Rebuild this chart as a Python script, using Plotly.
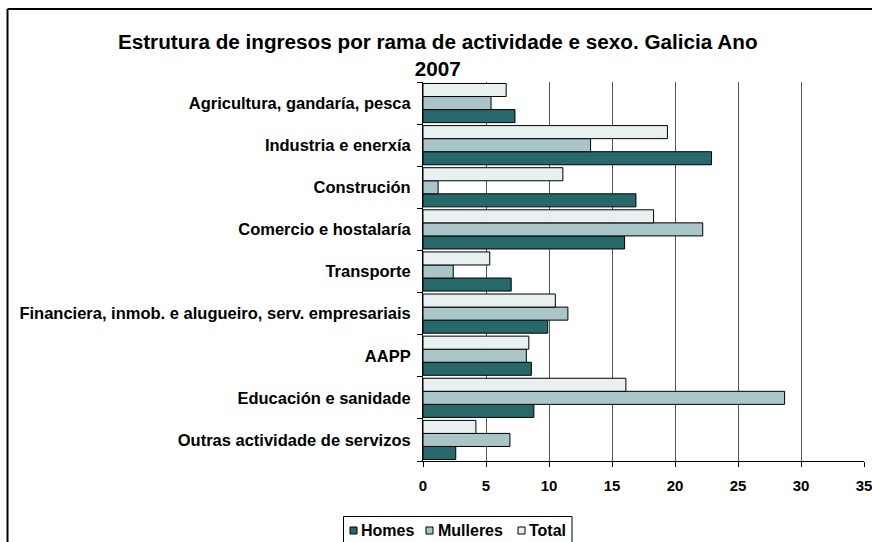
import plotly.graph_objects as go

# categorias de arriba a abaixo
ramas = ["Agricultura, gandaría, pesca", "Industria e enerxía", "Construción",
         "Comercio e hostalaría", "Transporte",
         "Financiera, inmob. e alugueiro, serv. empresariais", "AAPP",
         "Educación e sanidade", "Outras actividade de servizos"]

homes = [7.3, 22.9, 16.9, 16.0, 7.0, 9.9, 8.6, 8.8, 2.6]
mulleres = [5.4, 13.3, 1.2, 22.2, 2.4, 11.5, 8.2, 28.7, 6.9]
total = [6.6, 19.4, 11.1, 18.3, 5.3, 10.5, 8.4, 16.1, 4.2]

series = ["Homes", "Mulleres", "Total"]
cores = ["#27686A", "#A9C5C7", "#E9F1F0"]

xticks = [0, 5, 10, 15, 20, 25, 30, 35]

FONT = "Liberation Sans, Arial, sans-serif"
W, H = 872, 542
L, R, T, B = 423, 8, 82, 81

# pasa pixeles da paxina a coordenadas "paper"
def px(x):
    return (x - L) / (W - L - R)

def py(y):
    return (H - B - y) / (H - T - B)

fig = go.Figure()
for nome, vals, cor in zip(series, [homes, mulleres, total], cores):
    fig.add_trace(go.Bar(y=ramas, x=vals, orientation="h", name=nome, showlegend=False,
                         marker=dict(color=cor, line=dict(color="black", width=1))))

# marco exterior do grafico (so se ven as beiras superior e esquerda)
fig.add_shape(type="line", xref="paper", yref="paper", x0=px(7.5), x1=px(W + 5), y0=py(9), y1=py(9),
              line=dict(color="black", width=2))
fig.add_shape(type="line", xref="paper", yref="paper", x0=px(7.5), x1=px(7.5), y0=py(9), y1=py(H + 5),
              line=dict(color="black", width=2))

# lenda debuxada a man (caixa, cadriños e textos)
fig.add_shape(type="rect", xref="paper", yref="paper", x0=px(343.5), x1=px(572), y0=py(516.5), y1=py(H + 5),
              line=dict(color="black", width=1), fillcolor="white")
leg_sq = [350, 426, 518]
leg_tx = [359, 436, 527]
for nome, cor, xs, xt in zip(series, cores, leg_sq, leg_tx):
    fig.add_shape(type="rect", xref="paper", yref="paper", x0=px(xs), x1=px(xs + 7),
                  y0=py(527), y1=py(534), line=dict(color="black", width=1), fillcolor=cor)
    fig.add_annotation(text=nome, xref="paper", yref="paper", x=px(xt), y=py(530.5),
                       xanchor="left", yanchor="middle", showarrow=False,
                       font=dict(family=FONT, size=16, color="black", weight="bold"))

fig.update_layout(
    width=W, height=H,
    margin=dict(l=L, r=R, t=T, b=B, autoexpand=False),
    paper_bgcolor="white", plot_bgcolor="white",
    barmode="group", bargap=0.07, bargroupgap=0,
    showlegend=False,
    font=dict(family=FONT, size=15, color="black", weight="bold"),
    title=dict(text="Estrutura de ingresos por rama de actividade e sexo. Galicia Ano<br>2007",
               x=0.502, xanchor="center", y=0.91, yanchor="top", yref="container",
               font=dict(family=FONT, size=20.7, color="black", weight="bold")),
    xaxis=dict(range=[0, 35], tickvals=xticks, showgrid=True, gridcolor="#555555", gridwidth=1,
               showline=True, linecolor="black", linewidth=1, ticks="outside", ticklen=5,
               tickcolor="black", zeroline=False, automargin=False, ticklabelstandoff=6,
               ticklabeloverflow="allow", tickfont=dict(size=15)),
    yaxis=dict(categoryorder="array", categoryarray=ramas[::-1], showline=True, linecolor="black",
               linewidth=1, ticks="outside", ticklen=5, tickcolor="black", tickson="boundaries",
               showgrid=False, ticklabelstandoff=8, automargin=False,
               tickfont=dict(size=16.5)),
)

fig.write_html("out.html", config={"displayModeBar": False},
               post_script="document.body.style.margin='0px';")
